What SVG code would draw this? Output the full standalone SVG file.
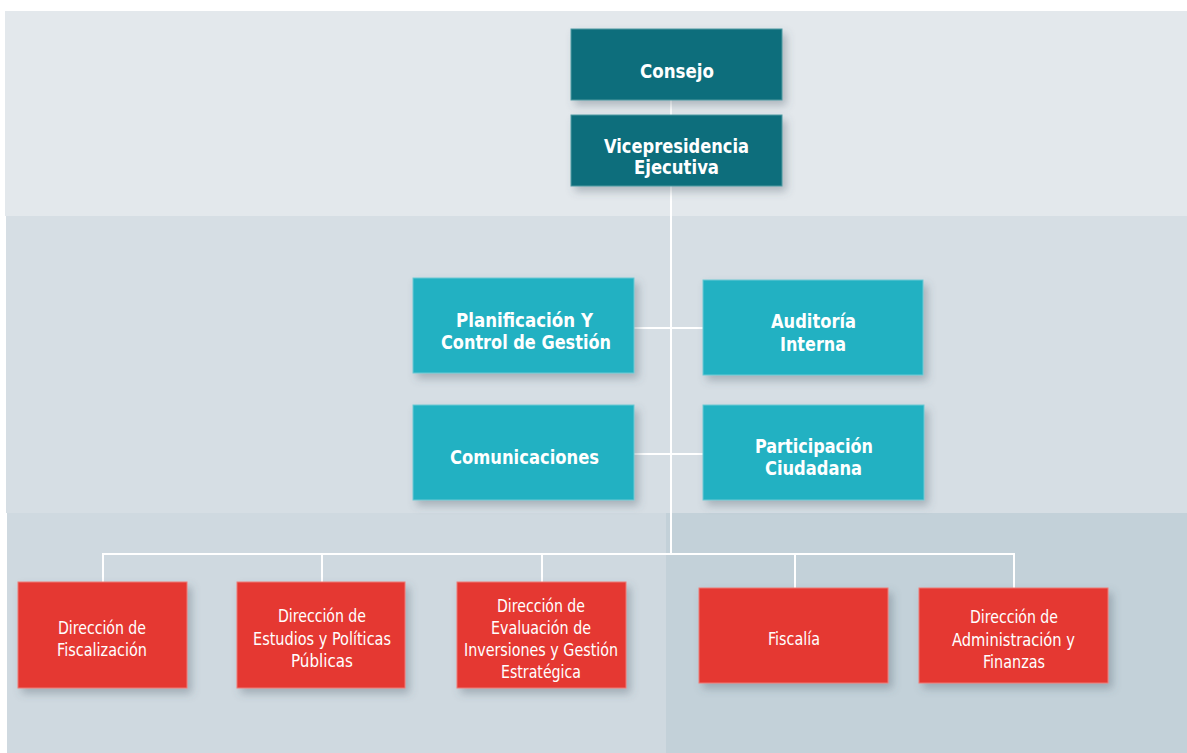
<svg xmlns="http://www.w3.org/2000/svg" width="1187" height="753" viewBox="0 0 1187 753">
<defs>
<filter id="sh" x="-20%" y="-20%" width="150%" height="160%">
<feDropShadow dx="4" dy="5" stdDeviation="4" flood-color="#4a5a66" flood-opacity="0.35"/>
</filter>
<style>
.t{font-family:"DejaVu Sans","Liberation Sans",sans-serif;font-stretch:condensed;fill:#ffffff;text-anchor:start}
.b{font-weight:bold;font-size:19px}
.r{font-weight:normal;font-size:18px}
.dark{fill:#0f6e7b;stroke:#4f9aa3;stroke-width:1}
.cyan{fill:#23b1c2;stroke:#6cc9d4;stroke-width:1}
.red{fill:#e53730;stroke:#ee7b76;stroke-width:1}
.ln{stroke:#ffffff;stroke-width:2;fill:none}
</style>
</defs>
<rect x="0" y="0" width="1187" height="753" fill="#ffffff"/>
<rect x="5" y="11" width="1182" height="205" fill="#e3e8ec"/>
<rect x="6" y="216" width="1181" height="297" fill="#d6dee4"/>
<rect x="7" y="513" width="659" height="240" fill="#cfd9e0"/>
<rect x="666" y="513" width="521" height="240" fill="#c3d1d9"/>

<g id="connectors">
<line class="ln" x1="671" y1="100" x2="671" y2="115"/>
<line class="ln" x1="671" y1="186" x2="671" y2="554"/>
<line class="ln" x1="634" y1="328" x2="703" y2="328"/>
<line class="ln" x1="634" y1="454" x2="703" y2="454"/>
<polyline class="ln" points="103,582 103,554 1014,554 1014,588"/>
<line class="ln" x1="322" y1="554" x2="322" y2="582"/>
<line class="ln" x1="542" y1="554" x2="542" y2="582"/>
<line class="ln" x1="795" y1="554" x2="795" y2="588"/>
</g>

<g id="consejo">
<rect class="dark" x="571" y="29" width="211" height="71" filter="url(#sh)"/>
<text class="t b" x="640" y="78" textLength="74" lengthAdjust="spacingAndGlyphs">Consejo</text>
</g>
<g id="vicepresidencia">
<rect class="dark" x="571" y="115" width="211" height="71" filter="url(#sh)"/>
<text class="t b" x="604" y="153" textLength="145" lengthAdjust="spacingAndGlyphs">Vicepresidencia</text>
<text class="t b" x="634" y="174" textLength="85" lengthAdjust="spacingAndGlyphs">Ejecutiva</text>
</g>

<g id="planificacion">
<rect class="cyan" x="413" y="278" width="221" height="95" filter="url(#sh)"/>
<text class="t b" x="456" y="327" textLength="137" lengthAdjust="spacingAndGlyphs">Planificación  Y</text>
<text class="t b" x="441" y="349" textLength="170" lengthAdjust="spacingAndGlyphs">Control de Gestión</text>
</g>
<g id="auditoria">
<rect class="cyan" x="703" y="280" width="220" height="95" filter="url(#sh)"/>
<text class="t b" x="771" y="328" textLength="85" lengthAdjust="spacingAndGlyphs">Auditoría</text>
<text class="t b" x="780" y="351" textLength="66" lengthAdjust="spacingAndGlyphs">Interna</text>
</g>
<g id="comunicaciones">
<rect class="cyan" x="413" y="405" width="221" height="95" filter="url(#sh)"/>
<text class="t b" x="450" y="464" textLength="149" lengthAdjust="spacingAndGlyphs">Comunicaciones</text>
</g>
<g id="participacion">
<rect class="cyan" x="703" y="405" width="221" height="95" filter="url(#sh)"/>
<text class="t b" x="755" y="453" textLength="118" lengthAdjust="spacingAndGlyphs">Participación</text>
<text class="t b" x="765" y="475" textLength="97" lengthAdjust="spacingAndGlyphs">Ciudadana</text>
</g>

<g id="fiscalizacion">
<rect class="red" x="18" y="582" width="169" height="106" filter="url(#sh)"/>
<text class="t r" x="58" y="634" textLength="88" lengthAdjust="spacingAndGlyphs">Dirección de</text>
<text class="t r" x="57" y="656" textLength="90" lengthAdjust="spacingAndGlyphs">Fiscalización</text>
</g>
<g id="estudios">
<rect class="red" x="237" y="582" width="168" height="106" filter="url(#sh)"/>
<text class="t r" x="278" y="622" textLength="88" lengthAdjust="spacingAndGlyphs">Dirección de</text>
<text class="t r" x="253" y="645" textLength="138" lengthAdjust="spacingAndGlyphs">Estudios y Políticas</text>
<text class="t r" x="291" y="667" textLength="62" lengthAdjust="spacingAndGlyphs">Públicas</text>
</g>
<g id="evaluacion">
<rect class="red" x="457" y="582" width="169" height="106" filter="url(#sh)"/>
<text class="t r" x="497" y="612" textLength="88" lengthAdjust="spacingAndGlyphs">Dirección de</text>
<text class="t r" x="491" y="634" textLength="100" lengthAdjust="spacingAndGlyphs">Evaluación de</text>
<text class="t r" x="464" y="656" textLength="154" lengthAdjust="spacingAndGlyphs">Inversiones y Gestión</text>
<text class="t r" x="501" y="678" textLength="80" lengthAdjust="spacingAndGlyphs">Estratégica</text>
</g>
<g id="fiscalia">
<rect class="red" x="699" y="588" width="189" height="95" filter="url(#sh)"/>
<text class="t r" x="768" y="645" textLength="52" lengthAdjust="spacingAndGlyphs">Fiscalía</text>
</g>
<g id="administracion">
<rect class="red" x="919" y="588" width="189" height="95" filter="url(#sh)"/>
<text class="t r" x="970" y="623" textLength="88" lengthAdjust="spacingAndGlyphs">Dirección de</text>
<text class="t r" x="952" y="646" textLength="123" lengthAdjust="spacingAndGlyphs">Administración y</text>
<text class="t r" x="983" y="668" textLength="62" lengthAdjust="spacingAndGlyphs">Finanzas</text>
</g>
</svg>
